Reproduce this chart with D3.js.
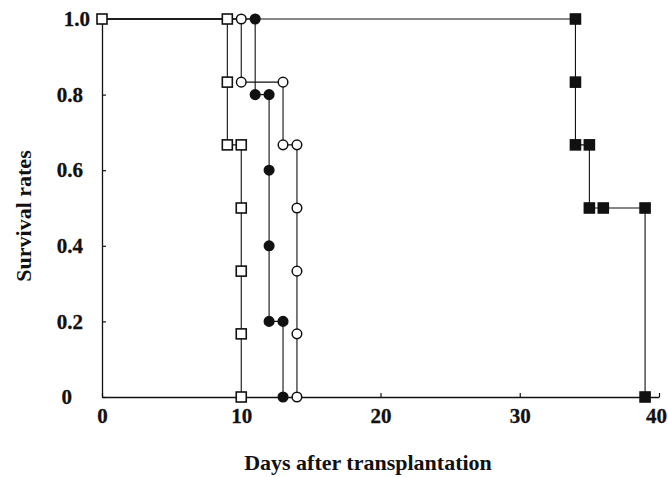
<!DOCTYPE html>
<html>
<head>
<meta charset="utf-8">
<script src="https://cdnjs.cloudflare.com/ajax/libs/d3/7.8.5/d3.min.js"></script>
<style>
  body { margin: 0; background: #fff; }
  svg { display: block; }
</style>
</head>
<body>
<script>
// survival data (day, survival rate)
var xTicks = [0, 10, 20, 30, 40];
var yTicks = [0, 0.2, 0.4, 0.6, 0.8, 1.0];

var openSquareDays = [0, 9, 9, 9, 10, 10, 10, 10, 10];
var openSquareSurv = [1, 1, 0.833, 0.667, 0.667, 0.5, 0.333, 0.167, 0];

var openCircleDays = [10, 10, 13, 13, 14, 14, 14, 14, 14];
var openCircleSurv = [1, 0.833, 0.833, 0.667, 0.667, 0.5, 0.333, 0.167, 0];

var filledCircleDays = [11, 11, 12, 12, 12, 12, 13, 13];
var filledCircleSurv = [1, 0.8, 0.8, 0.6, 0.4, 0.2, 0.2, 0];

var filledSquareDays = [34, 34, 34, 35, 35, 36, 39, 39];
var filledSquareSurv = [1, 0.833, 0.667, 0.667, 0.5, 0.5, 0.5, 0];

window.onload = function () {
    var w = 668, h = 477;
    var font = "'Liberation Serif', 'Times New Roman', serif";

    var svg = d3.select("body").append("svg")
        .attr("width", w)
        .attr("height", h);

    var x = d3.scaleLinear().domain([0, 40]).range([102, 659]);
    var y = d3.scaleLinear().domain([0, 1]).range([397, 19]);

    // axes
    var xAxis = d3.axisBottom(x)
        .tickValues(xTicks)
        .tickSizeInner(-4)
        .tickSizeOuter(0)
        .tickPadding(11);
    var gx = svg.append("g")
        .attr("transform", "translate(0," + y(0) + ")")
        .call(xAxis);

    var yAxis = d3.axisLeft(y)
        .tickValues(yTicks)
        .tickSizeInner(-4)
        .tickSizeOuter(0)
        .tickPadding(19)
        .tickFormat(function (d) { return d === 0 ? "0" : d3.format(".1f")(d); });
    var gy = svg.append("g")
        .attr("transform", "translate(" + x(0) + ",0)")
        .call(yAxis);

    [gx, gy].forEach(function (g) {
        g.attr("font-family", null).attr("font-size", null);
        g.select(".domain").attr("stroke", "#111").attr("stroke-width", 1.3);
        g.selectAll(".tick line").attr("stroke", "#111").attr("stroke-width", 1.2);
        g.selectAll(".tick text")
            .attr("fill", "#111")
            .attr("stroke", "#111")
            .attr("stroke-width", 0.3)
            .style("font-family", font)
            .style("font-weight", "bold")
            .style("font-size", "21px");
    });
    // the scanned labels are not quite aligned
    gy.selectAll(".tick text").attr("dx", function (d) {
        return d === 1 ? 7 : (d === 0 ? -11 : 0);
    });
    // keep the last label inside the page
    gx.selectAll(".tick text").attr("dx", function (d) {
        return d === 40 ? -3 : 0;
    });

    // axis titles
    svg.append("text")
        .attr("x", 368)
        .attr("y", 470)
        .attr("text-anchor", "middle")
        .style("font-family", font)
        .style("font-weight", "bold")
        .style("font-size", "22px")
        .attr("fill", "#111")
        .text("Days after transplantation");

    svg.append("text")
        .attr("transform", "translate(31,216) rotate(-90)")
        .attr("text-anchor", "middle")
        .style("font-family", font)
        .style("font-weight", "bold")
        .style("font-size", "22px")
        .attr("fill", "#111")
        .text("Survival rates");

    // build series
    function pts(days, surv) {
        return days.map(function (d, i) { return { day: d, s: surv[i] }; });
    }
    var series = [
        { name: "openSquare", shape: "square", fill: "#fff", data: pts(openSquareDays, openSquareSurv) },
        { name: "openCircle", shape: "circle", fill: "#fff", data: pts(openCircleDays, openCircleSurv) },
        { name: "filledCircle", shape: "circle", fill: "#111", data: pts(filledCircleDays, filledCircleSurv) },
        { name: "filledSquare", shape: "square", fill: "#111", data: pts(filledSquareDays, filledSquareSurv) }
    ];

    var line = d3.line()
        .x(function (d) { return x(d.day); })
        .y(function (d) { return y(d.s); });

    // step lines, all start at day 0 with survival 1
    svg.selectAll(".curve")
        .data(series)
        .enter()
        .append("path")
        .attr("class", "curve")
        .attr("d", function (sr) { return line([{ day: 0, s: 1 }].concat(sr.data)); })
        .attr("fill", "none")
        .attr("stroke", "#111")
        .attr("stroke-width", 1.1);

    // markers
    series.forEach(function (sr) {
        var g = svg.append("g").attr("class", sr.name);
        if (sr.shape === "square") {
            g.selectAll("rect")
                .data(sr.data)
                .enter()
                .append("rect")
                .attr("x", function (d) { return x(d.day) - 5; })
                .attr("y", function (d) { return y(d.s) - 5; })
                .attr("width", 10)
                .attr("height", 10)
                .attr("fill", sr.fill)
                .attr("stroke", "#111")
                .attr("stroke-width", 1.6);
        } else {
            g.selectAll("circle")
                .data(sr.data)
                .enter()
                .append("circle")
                .attr("cx", function (d) { return x(d.day); })
                .attr("cy", function (d) { return y(d.s); })
                .attr("r", 4.8)
                .attr("fill", sr.fill)
                .attr("stroke", "#111")
                .attr("stroke-width", 1.5);
        }
    });
};
</script>
</body>
</html>
